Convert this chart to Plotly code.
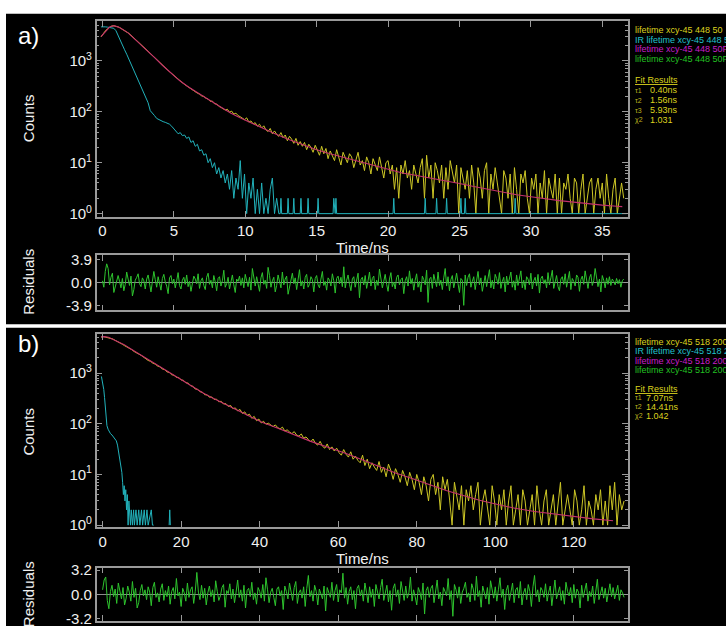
import plotly.graph_objects as go

# ---------------- panel a data ----------------
a_x0, a_dx = -0.1, 0.15
a_counts = [2950,3450,3850,4250,4580,4820,4880,4820,4650,4420,
            4180,3950,3700,3460,3180,2920,2680,2430,2220,2020,
            1850,1700,1540,1400,1270,1160,1060,965,880,800,
            730,670,612,560,520,478,440,402,372,345,
            322,300,285,262,252,232,222,205,200,184,
            178,160,162,144,142,
            128,122,116,108,112,98,103,90,94,84,
            80,74,70,76,63,66,58,61,52,57,
            48,53,44,41,47,37,42,36,33,39,
            31,35,27,33,29,24,30,22,26,21,
            25,18,23,20,16,22,17,14,21,15,
            19,12,17,14,11,18,13,9,16,12,
            10,15,13,8,12,16,9,11,7,13,
            10,6,12,9,7,13,8,5,10,11,
            6,9,3,8,2,9,6,11,5,7,
            3,9,6,4,8,12,2,14,5,9,
            2,10,7,4,9,2,8,3,11,6,
            4,9,1,8,5,3,7,2,9,4,
            1,8,5,2,7,10,1,6,3,8,
            4,2,1,7,5,2,6,1,8,3,
            1,6,4,7,2,1,5,3,6,1,
            4,2,7,1,5,3,2,6,1,5,
            1,4,3,6,2,1,5,4,1,3,
            6,1,2,4,5,1,3,5,2,4,
            1,6,2,1,3,5,1,2,4,2]
a_irf_head = [4650,4700,4650,4600,4550,4550,4350,3900,3100,2500,
              2000,1650,1350,1080,880,700,560,460,370,300,
              235,195,150,105,95,84,74,70,68,64,
              62,60,57,52,46,40,37,39,34,35,
              30,32,25,27,21,23,17,18,14,15,
              10,12,8,10,6,8,5,7,4,6,
              3,7,2,5,3,11,2,6,1,4,
              2,5,1,3,1,4,1,2,1,3,
              5,1,2,1]
a_irf_tail_t = [12.35,12.45,12.5,12.55,12.95,13.0,13.05,13.35,13.4,13.45,
                13.85,13.9,13.95,14.35,14.4,14.45,15.05,15.1,15.15,
                16.15,16.2,16.25,16.3,16.35,16.4,20.35,20.4,20.45,
                22.55,22.6,22.65,23.35,23.4,23.45,24.05,24.1,24.15,
                25.05,25.1,25.15,25.35,25.4,25.45,28.85,28.9,28.95,36.7]
a_irf_tail = [1,1,2,1,1,2,1,1,2,1,
              1,2,1,1,2,1,1,2,1,
              1,2,1,1,2,1,1,2,1,
              1,2,1,1,2,1,1,2,1,
              1,2,1,1,2,1,1,2,1,1]
a_fit_t = [-0.1,0.2,0.5,0.8,1.2,1.8,2.4,3.0,3.6,4.2,4.8,5.4,6.0,6.6,7.2,7.8,
           8.4,9.0,9.6,10.2,11,12,13,14,15,16,17,18,19,20,21,22,23,24,25,
           26,27,28,29,30,31,32,33,34,35,36,36.4]
a_fit = [3000,3800,4600,4900,4500,3550,2500,1750,1200,820,580,410,310,240,190,150,
         118,94,77,64,50,38,29,22.5,18,14.8,12.4,10.4,8.8,7.4,6.3,5.6,5.0,4.4,3.9,
         3.4,3.0,2.65,2.35,2.15,1.95,1.8,1.68,1.56,1.47,1.4,1.37]
a_res_x0, a_res_dx = 0.0, 0.1
a_resid = [0.3,-0.8,1.9,3.2,2.4,-0.4,0.9,1.6,-1.7,-0.6,
           0.5,1.2,0.2,-0.9,0.7,-1.4,-0.3,1.8,0.6,-0.5,
           1.1,-2.3,-1.2,0.4,0.9,1.5,-0.2,-0.7,0.8,0.3,
           -1.1,0.6,1.3,-0.4,-1.6,0.2,1.9,0.5,-0.8,1.0,
           -0.3,-1.3,0.7,1.4,0.1,-0.6,-1.9,0.8,1.2,-0.2,
           0.6,-0.9,0.3,1.7,-0.5,-1.1,0.4,0.9,-0.3,1.3,
           -0.7,0.2,-1.5,-0.4,1.1,0.6,-0.2,1.5,-1.0,0.3,
           0.8,-0.5,-1.2,0.9,1.6,-0.3,0.4,-0.9,1.2,0.1,
           -1.4,0.7,1.0,-0.6,0.3,2.1,-0.8,-0.2,0.9,-1.1,
           0.5,1.3,-0.4,-1.7,0.6,0.2,1.1,-0.5,0.8,-0.9,
           1.4,0.3,-0.7,0.9,-1.3,2.4,0.5,-0.6,1.0,-0.2,
           -1.5,0.8,1.7,-0.3,0.4,-1.0,2.6,1.2,-0.8,0.3,
           0.9,-1.6,-0.5,1.3,0.2,-0.9,1.8,-0.4,0.6,1.1,
           -2.0,-0.7,0.5,1.6,-0.2,0.8,-1.2,0.4,2.2,-0.6,
           0.3,-1.1,0.9,1.4,-0.8,-0.3,1.0,0.5,-1.6,0.7,
           1.2,-0.4,-0.9,0.6,1.9,-0.5,0.2,-1.3,0.8,0.4,
           -0.6,1.5,0.3,-1.8,0.7,1.1,-0.2,0.9,-0.7,2.7,
           -0.9,0.4,1.3,-0.3,-1.4,0.6,1.0,-0.8,0.2,1.6,
           -2.6,0.5,0.9,-0.4,1.2,-1.0,0.3,1.8,-0.6,0.7,
           1.1,-1.2,0.4,-0.5,2.3,0.8,-0.9,0.2,1.4,-0.3,
           -1.5,0.6,1.7,-0.7,0.1,-1.1,0.9,1.3,-0.4,0.5,
           0.8,-1.9,0.3,1.0,-0.6,2.0,-0.2,0.7,-1.3,0.4,
           1.5,-0.8,0.2,-1.6,1.1,0.5,-0.4,2.1,-3.4,0.6,
           0.9,-1.0,1.4,0.3,-0.7,1.8,-0.5,0.4,-1.2,0.8,
           2.4,-0.6,1.0,-1.4,0.5,1.2,-0.9,0.3,1.6,-0.2,
           -1.7,0.7,0.4,-3.9,1.3,-0.5,0.9,1.5,-0.8,0.2,
           1.0,-1.2,0.6,1.9,-0.4,0.8,-1.5,0.3,1.2,-0.7,
           0.5,2.2,-0.9,0.4,-1.1,1.4,0.7,-0.3,1.7,-1.0,
           0.2,0.9,-1.6,1.1,-0.4,0.6,1.8,-0.8,0.3,-1.3,
           1.3,-0.5,0.8,2.0,-0.9,0.4,-1.2,1.0,0.6,-0.4,
           1.6,-1.1,0.3,0.9,-0.6,1.4,-1.8,0.7,1.1,-0.2,
           0.5,-0.9,1.7,-0.4,0.8,2.1,-1.0,0.3,1.2,-0.7,
           -1.4,0.6,1.0,-0.3,1.5,-0.8,0.4,1.9,-1.2,0.7,
           0.2,-0.6,1.3,0.9,-1.5,0.5,1.1,-0.3,2.0,0.4,
           -1.0,0.8,1.4,-0.5,0.3,2.4,1.1,-0.7,0.6,-1.6,
           1.2,0.4,-0.9,0.8,-0.3,1.0,-0.5,0.6,0.2,-0.4,
           0.7,-0.2,0.5,-0.8,0.3,0.6]

# ---------------- panel b data ----------------
b_x0, b_dx = -0.4, 0.6
b_counts = [5150,5280,5120,5030,4820,4720,4430,4230,3920,3730,
            3480,3320,3090,2920,2680,2570,2380,2250,2050,1950,
            1780,1710,1570,1510,1380,1330,1210,1170,1060,1030,
            930,905,825,815,735,720,645,635,565,550,
            485,480,430,420,375,372,336,338,302,306,
            272,278,246,250,220,230,198,206,180,192,
            160,172,146,155,128,140,115,124,
            104,112,98,103,93,88,95,84,79,86,
            72,76,69,64,70,60,57,63,52,55,
            49,44,50,41,38,45,36,33,40,31,
            35,29,33,27,24,31,25,22,28,20,
            23,19,17,24,15,20,13,17,14,12,
            18,11,14,9,16,12,8,13,10,7,
            12,9,6,11,8,5,10,7,4,9,
            6,3,8,10,4,7,2,9,5,8,
            3,1,7,4,2,6,1,5,3,6,
            2,4,7,1,3,5,2,1,6,3,
            1,4,2,5,1,3,6,1,2,4,
            1,5,3,1,2,4,1,6,2,1,
            3,5,1,2,4,1,3,7,1,2,
            4,2,1,5,3,1,2,6,1,3,
            2,1,4,2,5,1,3,1,6,2,
            7,1,4,2,3]
b_irf_t = [-0.3,0,0.3,0.5,0.7,0.9,1.1,1.4,1.7,2.0,2.4,2.8,3.2,3.5,3.8,4.1,4.4,4.7,4.9,5.1,
           5.3,5.5,5.7,5.9,6.1,6.3,6.5,6.7,6.9,7.1,7.3,7.6,7.9,8.1,8.5,8.8,9.2,9.5,9.9,10.2,
           10.6,10.9,11.3,11.6,12.4,12.7,13.0]
b_irf = [860,650,475,330,225,140,92,78,70,64,60,55,51,46,38,28,20,14,11,7,
         4,6,3,5,2,4,1,3,2,1,2,1,2,1,2,1,2,1,2,1,
         2,1,2,1,2,1,1]
b_irf_spike_t = [16.95,17.1,17.25]
b_irf_spike = [1,2,1]
b_fit_t = [-0.4,0.5,1.5,2.4,4,5.5,6.6,8,9,10.9,13,15.1,17,19.4,21.5,23.6,25.7,27.9,30,32.1,
           34.2,36.3,38.5,40.6,45,49.1,53,57.6,62,66.1,70.5,74.6,79,83.1,87.5,91.6,96,100.1,
           105,110,115,120,125,130]
b_fit = [5200,5250,5100,4750,4100,3650,3200,2750,2450,1950,1560,1240,1010,800,630,495,400,325,270,225,
         190,160,130,107,80,59,45,34,26,19.5,14.2,10.7,8.2,6.4,4.8,3.9,3.1,2.6,
         2.15,1.85,1.65,1.47,1.33,1.22]
b_res_x0, b_res_dx = 0.0, 0.4
b_resid = [0.6,1.9,2.3,-0.8,-1.9,0.4,1.2,-0.3,0.7,-1.2,
           1.5,0.2,-0.6,0.9,-1.4,-0.5,1.1,0.3,-0.9,1.7,
           -0.4,0.8,-1.8,-1.1,0.5,1.3,-0.2,0.6,-0.7,1.0,
           0.3,-1.5,0.9,1.6,-0.4,0.2,-1.0,0.7,1.4,-0.8,
           0.5,-0.3,1.1,-1.3,0.4,0.9,-0.6,2.1,-0.2,0.3,
           -1.6,0.8,0.2,-0.9,1.5,-0.4,0.6,1.0,-1.2,0.4,
           2.9,0.3,-0.7,1.2,-0.5,0.8,-1.4,0.2,1.1,-0.3,
           0.6,-1.0,1.8,0.4,-0.8,-0.2,0.9,1.3,-1.7,0.5,
           0.1,1.4,-0.6,0.7,-1.1,0.3,1.9,-0.4,0.6,-0.9,
           1.2,-1.8,0.5,0.8,-0.3,1.6,-0.7,0.2,-1.3,0.9,
           0.4,-0.5,1.3,-0.9,2.2,0.6,-1.1,0.3,0.8,-0.4,
           -1.5,0.7,1.0,-0.2,0.5,-2.0,1.1,0.4,-0.6,1.5,
           0.3,-0.8,0.9,1.7,-1.2,0.2,0.6,-0.5,1.0,-1.6,
           0.8,2.5,-0.3,0.5,-0.9,1.2,0.4,-1.4,0.7,0.1,
           -0.6,1.1,-2.2,0.9,0.3,-0.4,1.6,-0.8,0.5,1.3,
           -1.0,0.6,0.2,2.8,-0.5,0.9,-1.3,0.4,1.0,-0.7,
           0.5,-1.9,0.8,1.2,-0.2,0.6,-0.9,1.5,0.3,-1.1,
           1.0,-0.4,0.7,-1.6,1.3,0.2,-0.6,0.9,2.0,-0.8,
           0.3,1.2,-1.0,0.5,-2.1,0.8,1.4,-0.3,0.6,-1.2,
           1.7,0.4,-0.8,1.1,-0.5,0.2,2.3,-0.9,0.6,-0.3,
           -1.4,0.9,0.3,-0.7,1.5,-2.6,0.5,1.0,-0.4,0.8,
           1.2,-1.1,0.6,1.9,-0.6,0.3,-1.5,0.9,0.4,-0.2,
           2.1,-0.7,0.5,-2.9,1.3,0.6,-0.5,1.0,-1.2,0.3,
           0.8,1.6,-0.4,0.2,-1.0,1.4,0.7,-0.8,2.4,-0.3,
           0.5,-1.7,1.1,0.3,-0.6,0.9,-1.3,1.8,0.4,-0.5,
           1.0,-0.9,0.6,2.2,-0.4,0.7,-2.0,0.5,1.2,-0.8,
           0.3,1.5,-1.1,0.6,0.9,-0.5,1.7,-1.4,0.2,0.8,
           -0.7,1.3,0.4,-1.6,1.0,2.5,-0.3,0.6,-1.0,0.9,
           0.5,-0.4,1.4,-0.9,0.3,1.1,-1.5,0.7,1.9,-0.6,
           0.2,1.0,-0.8,0.5,-1.3,1.6,0.4,-0.2,0.9,-1.1,
           1.3,-0.5,0.7,0.3,-1.8,1.2,-0.4,0.8,1.5,-0.9,
           0.4,-0.3,1.1,-1.2,0.6,2.0,-0.7,0.3,1.0,-0.5,
           0.8,-1.0,0.5,1.4,-0.3,0.9,-0.6,0.4,1.2,-0.8,
           0.6,0.2,-0.4]

# ---------------- tick labels / texts ----------------
log_ticks = [1, 10, 100, 1000]
log_ticktext = ["10<sup>0</sup>", "10<sup>1</sup>", "10<sup>2</sup>", "10<sup>3</sup>"]
a_xticks = [0, 5, 10, 15, 20, 25, 30, 35]
b_xticks = [0, 20, 40, 60, 80, 100, 120]
a_res_ticks = [-3.9, 0.0, 3.9]
a_res_text = ["-3.9", "0.0", "3.9"]
b_res_ticks = [-3.2, 0.0, 3.2]
b_res_text = ["-3.2", "0.0", "3.2"]

FONT = "Liberation Sans, Arial, sans-serif"
FRAME = "#9a9a9a"
TXT = "#f0f0f0"
YEL = "#cdc726"
CYA = "#22b2bb"
FIT = "#c4306c"
GRN = "#2ec42e"
W, H = 726, 633

def px_x(p):
    return p / W

def px_y(p):
    return 1 - p / H

fig = go.Figure()

# panel a traces
fig.add_trace(go.Scatter(x0=a_x0, dx=a_dx, y=a_counts, mode="lines",
                         line=dict(color=YEL, width=1), xaxis="x", yaxis="y"))
fig.add_trace(go.Scatter(x0=a_x0, dx=a_dx, y=a_irf_head, mode="lines",
                         line=dict(color=CYA, width=1), xaxis="x", yaxis="y"))
fig.add_trace(go.Scatter(x=a_irf_tail_t, y=a_irf_tail, mode="lines",
                         line=dict(color=CYA, width=1), xaxis="x", yaxis="y"))
fig.add_trace(go.Scatter(x=a_fit_t, y=a_fit, mode="lines",
                         line=dict(color=FIT, width=1.1), xaxis="x", yaxis="y"))
fig.add_trace(go.Scatter(x0=a_res_x0, dx=a_res_dx, y=a_resid, mode="lines",
                         line=dict(color=GRN, width=1), xaxis="x2", yaxis="y2"))

# panel b traces
fig.add_trace(go.Scatter(x0=b_x0, dx=b_dx, y=b_counts, mode="lines",
                         line=dict(color=YEL, width=1), xaxis="x3", yaxis="y3"))
fig.add_trace(go.Scatter(x=b_irf_t, y=b_irf, mode="lines",
                         line=dict(color=CYA, width=1), xaxis="x3", yaxis="y3"))
fig.add_trace(go.Scatter(x=b_irf_spike_t, y=b_irf_spike, mode="lines",
                         line=dict(color=CYA, width=1), xaxis="x3", yaxis="y3"))
fig.add_trace(go.Scatter(x=b_fit_t, y=b_fit, mode="lines",
                         line=dict(color=FIT, width=1.1), xaxis="x3", yaxis="y3"))
fig.add_trace(go.Scatter(x0=b_res_x0, dx=b_res_dx, y=b_resid, mode="lines",
                         line=dict(color=GRN, width=1), xaxis="x4", yaxis="y4"))

minor_vals = [m * 10 ** e for e in range(4) for m in range(2, 10)]
xdom = [px_x(96.7), px_x(628)]
tickfont = dict(family=FONT, size=15, color=TXT)

def frame_common():
    return dict(showline=True, linecolor=FRAME, linewidth=1.5, mirror="ticks",
                ticks="inside", tickcolor=FRAME, tickwidth=1, showgrid=False,
                zeroline=False, tickfont=tickfont)

def log_axis(dom, rng):
    d = frame_common()
    d.update(type="log", domain=dom, range=rng, tickmode="array",
             tickvals=log_ticks, ticktext=log_ticktext, ticklen=6,
             minor=dict(tickmode="array", tickvals=minor_vals, ticks="inside",
                        ticklen=3, tickcolor=FRAME, showgrid=False))
    return d

def time_axis(rng, ticks, anchor, title, labels=True):
    d = frame_common()
    d.update(domain=xdom, range=rng, tickmode="array", tickvals=ticks,
             ticklen=6, anchor=anchor, showticklabels=labels)
    if title:
        d["title"] = dict(text="Time/ns", font=dict(family=FONT, size=15, color=TXT), standoff=2)
    return d

def res_axis(dom, rng, ticks, text):
    d = frame_common()
    d.update(domain=dom, range=rng, tickmode="array", tickvals=ticks, ticktext=text,
             ticklen=4, zeroline=True, zerolinecolor="#8c8c8c", zerolinewidth=1)
    return d

layout_axes = dict(
    xaxis=time_axis([-0.4, 36.8], a_xticks, "y", True),
    yaxis=log_axis([px_y(215), px_y(15.7)], [-0.058, 3.775]),
    xaxis2=time_axis([-0.4, 36.8], a_xticks, "y2", False, labels=False),
    yaxis2=res_axis([px_y(310.7), px_y(254)], [-4.75, 4.75], a_res_ticks, a_res_text),
    xaxis3=time_axis([-1.5, 133.8], b_xticks, "y3", True),
    yaxis3=log_axis([px_y(531.7), px_y(335)], [-0.033, 3.77]),
    xaxis4=time_axis([-1.5, 133.8], b_xticks, "y4", False, labels=False),
    yaxis4=res_axis([px_y(628.1), px_y(573.3)], [-3.55, 3.55], b_res_ticks, b_res_text),
)
layout_axes["yaxis"]["anchor"] = "x"
layout_axes["yaxis2"]["anchor"] = "x2"
layout_axes["yaxis3"]["anchor"] = "x3"
layout_axes["yaxis4"]["anchor"] = "x4"

shapes = [
    dict(type="rect", xref="paper", yref="paper", x0=px_x(6), x1=1.0,
         y0=px_y(325), y1=px_y(8), fillcolor="black", line=dict(width=0), layer="below"),
    dict(type="rect", xref="paper", yref="paper", x0=px_x(6), x1=1.0,
         y0=0.0, y1=px_y(328.5), fillcolor="black", line=dict(width=0), layer="below"),
]

annotations = []

def txt(text, x, y, size, color, xanchor="left", angle=0):
    annotations.append(dict(text=text, x=px_x(x), y=px_y(y), xref="paper", yref="paper",
                            xanchor=xanchor, yanchor="middle", showarrow=False,
                            textangle=angle, font=dict(family=FONT, size=size, color=color)))

txt("a)", 28, 30, 24, "white", "center")
txt("b)", 28, 345, 24, "white", "center")
txt("Counts", 28.5, 115, 15, TXT, "center", -90)
txt("Residuals", 28.5, 282, 15, TXT, "center", -90)
txt("Counts", 28.5, 435, 15, TXT, "center", -90)
txt("Residuals", 28.5, 601, 15, TXT, "center", -90)

LY, LC, LM, LG = "#dcd21e", "#22c0cc", "#c81ec8", "#22c222"
legend_a = [("lifetime xcy-45 448 50", LY, 24.3),
            ("IR lifetime xcy-45 448 50", LC, 34.3),
            ("lifetime xcy-45 448 50Fit", LM, 44.3),
            ("lifetime xcy-45 448 50Fit", LG, 54.3)]
legend_b = [("lifetime xcy-45 518 200", LY, 343.3),
            ("IR lifetime xcy-45 518 200", LC, 352.5),
            ("lifetime xcy-45 518 200Fit", LM, 362.0),
            ("lifetime xcy-45 518 200Fit", LG, 371.5)]
for t, c, y in legend_a + legend_b:
    txt(t, 633, y, 9, c)

txt("<u>Fit Results</u>", 633, 75.5, 9, LY)
txt("<u>Fit Results</u>", 633, 391, 9, LY)
fit_a = [("τ1", "0.40ns", 86), ("τ2", "1.56ns", 96.3), ("τ3", "5.93ns", 106.3), ("χ2", "1.031", 116.5)]
fit_b = [("τ1", "7.07ns", 400), ("τ2", "14.41ns", 409.3), ("χ2", "1.042", 418.3)]
for s, v, y in fit_a:
    txt(s, 633, y, 7, "#bdb41e")
    txt(v, 648, y, 9, LY)
for s, v, y in fit_b:
    txt(s, 633, y, 7, "#bdb41e")
    txt(v, 644, y, 9, LY)

fig.update_layout(width=W, height=H, margin=dict(l=0, r=0, t=0, b=0),
                  paper_bgcolor="white", plot_bgcolor="black", showlegend=False,
                  shapes=shapes, annotations=annotations, **layout_axes)

fig.write_html("out.html", config={"displayModeBar": False},
               post_script="document.body.style.margin='0px';document.body.style.overflow='hidden';")
